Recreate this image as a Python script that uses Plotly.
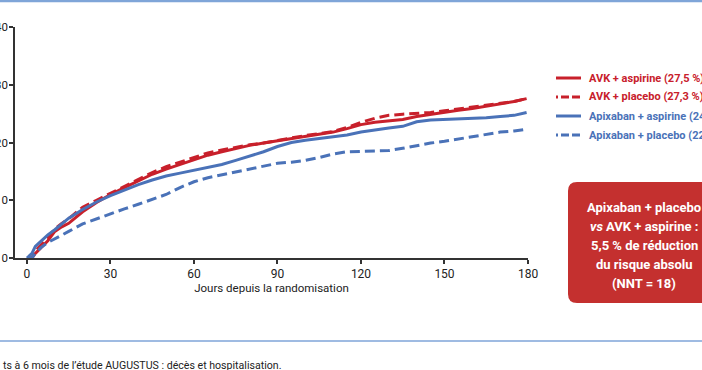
import plotly.graph_objects as go

# ---- data ----
days = [0, 1.8, 3, 5, 7.5, 10, 12.5, 15, 20, 25, 30, 35, 40, 45, 50, 55, 60, 65, 70, 75,
        80, 85, 90, 95, 100, 105, 110, 115, 120, 125, 130, 135, 140, 145, 150, 155, 160,
        165, 170, 175, 179.5]
avk_aspirine = [0, 0, 0.8, 1.7, 3.0, 4.6, 5.4, 6.0, 8.0, 9.6, 11.0, 12.2, 13.3, 14.5, 15.4,
                16.2, 17.0, 17.8, 18.4, 19.0, 19.5, 19.9, 20.3, 20.7, 21.1, 21.4, 21.8, 22.4,
                23.1, 23.5, 23.8, 24.0, 24.5, 24.9, 25.3, 25.6, 25.9, 26.3, 26.7, 27.1, 27.6]
avk_placebo = [0, 0, 1.2, 2.2, 3.5, 5.0, 6.0, 6.8, 8.8, 10.0, 11.2, 12.5, 13.6, 14.8, 15.8,
               16.6, 17.5, 18.2, 18.7, 19.2, 19.6, 19.9, 20.4, 20.8, 21.2, 21.5, 21.9, 22.6,
               23.5, 24.2, 24.7, 24.9, 25.0, 25.2, 25.5, 25.8, 26.1, 26.4, 26.8, 27.1, 27.6]
apix_aspirine = [0, 0.8, 2.0, 2.9, 4.0, 4.9, 5.9, 6.9, 8.4, 9.7, 10.8, 11.8, 12.7, 13.5, 14.2,
                 14.7, 15.2, 15.6, 16.2, 16.9, 17.6, 18.4, 19.3, 20.0, 20.4, 20.7, 21.0, 21.3,
                 21.8, 22.2, 22.5, 22.8, 23.6, 23.9, 24.0, 24.0, 24.1, 24.3, 24.5, 24.7, 25.2]
apix_placebo = [0, 0, 0.8, 1.8, 2.7, 3.3, 4.0, 4.6, 5.9, 6.8, 7.6, 8.5, 9.3, 10.1, 11.0, 12.2,
                13.2, 13.9, 14.4, 14.9, 15.3, 15.9, 16.4, 16.6, 16.9, 17.4, 18.0, 18.4, 18.5,
                18.5, 18.6, 19.0, 19.5, 19.9, 20.2, 20.6, 21.1, 21.5, 21.8, 22.0, 22.3]

x_ticks = [0, 30, 60, 90, 120, 150, 180]
y_ticks = [0, 10, 20, 30, 40]
x_title = "Jours depuis la randomisation"
legend_labels = ["AVK + aspirine (27,5 %)", "AVK + placebo (27,3 %)",
                 "Apixaban + aspirine (24,9 %)", "Apixaban + placebo (22,0 %)"]
box_lines = ["Apixaban + placebo", "<i>vs</i> AVK + aspirine :", "5,5 % de réduction",
             "du risque absolu", "(NNT = 18)"]
footer = "ts à 6 mois de l’étude AUGUSTUS : décès et hospitalisation."

RED = "#c8202b"
BLUE = "#4a72b8"
BOX = "#c4302f"
LINEBLUE = "#7fa5d8"
FONT = "Roboto, 'DejaVu Sans', sans-serif"
DASH = "10px,5px"
LEG_DASH = "2px,3px,8px,3px,8px,3px"

series = [
    (legend_labels[0], avk_aspirine, RED, "solid"),
    (legend_labels[1], avk_placebo, RED, DASH),
    (legend_labels[2], apix_aspirine, BLUE, "solid"),
    (legend_labels[3], apix_placebo, BLUE, DASH),
]

W, H = 702, 370
L, R, T, B = 15, 174, 27, 112
PW, PH = W - L - R, H - T - B


def px_x(px):
    return (px - L) / PW


def px_y(py):
    return (H - B - py) / PH


fig = go.Figure()
for name, vals, col, dash in series:
    fig.add_trace(go.Scatter(x=days, y=vals, mode="lines", name=name,
                             line=dict(color=col, width=3, dash=dash),
                             showlegend=False))

shapes = []
annotations = []

# legend (drawn manually)
rows_y = [78, 97, 116, 135]
for (name, vals, col, dash), ry in zip(series, rows_y):
    shapes.append(dict(type="line", xref="paper", yref="paper",
                       x0=px_x(556), x1=px_x(581), y0=px_y(ry), y1=px_y(ry),
                       line=dict(color=col, width=3,
                                 dash="solid" if dash == "solid" else LEG_DASH)))
    annotations.append(dict(text=name, xref="paper", yref="paper", x=px_x(587), y=px_y(ry),
                            xanchor="left", yanchor="middle", showarrow=False,
                            font=dict(family=FONT, size=11, color=col, weight="bold")))

# rounded red box
x0, x1, y0, y1, r = px_x(568), px_x(722), px_y(182), px_y(303), 9
rx, ry_ = r / PW, r / PH
path = (f"M {x0 + rx},{y0} L {x1 - rx},{y0} Q {x1},{y0} {x1},{y0 - ry_} "
        f"L {x1},{y1 + ry_} Q {x1},{y1} {x1 - rx},{y1} L {x0 + rx},{y1} "
        f"Q {x0},{y1} {x0},{y1 + ry_} L {x0},{y0 - ry_} Q {x0},{y0} {x0 + rx},{y0} Z")
shapes.append(dict(type="path", xref="paper", yref="paper", path=path,
                   fillcolor=BOX, line=dict(width=0)))
for i, t in enumerate(box_lines):
    annotations.append(dict(text=t, xref="paper", yref="paper", x=px_x(644),
                            y=px_y(207 + 19 * i), xanchor="center", yanchor="middle",
                            showarrow=False,
                            font=dict(family=FONT, size=13, color="white", weight="bold")))

# top border line and separator
shapes.append(dict(type="line", xref="paper", yref="paper", x0=px_x(-5), x1=px_x(710),
                   y0=px_y(1), y1=px_y(1), line=dict(color=LINEBLUE, width=2.5)))
shapes.append(dict(type="line", xref="paper", yref="paper", x0=px_x(-5), x1=px_x(710),
                   y0=px_y(341), y1=px_y(341), line=dict(color=LINEBLUE, width=1.5)))

annotations.append(dict(text=footer, xref="paper", yref="paper", x=px_x(1), y=px_y(365),
                        xanchor="left", yanchor="middle", showarrow=False,
                        font=dict(family=FONT, size=10.6, color="#222222")))

fig.update_layout(
    width=W, height=H,
    margin=dict(l=L, r=R, t=T, b=B, pad=0),
    paper_bgcolor="white", plot_bgcolor="white",
    shapes=shapes, annotations=annotations,
    font=dict(family=FONT, color="#222222"),
    xaxis=dict(range=[-4.3, 180], tickvals=x_ticks, ticktext=[str(v) for v in x_ticks],
               showline=True, linecolor="#333333", linewidth=1.5, ticks="outside",
               ticklen=4, tickcolor="#333333", tickwidth=1.5, showgrid=False,
               zeroline=False, tickfont=dict(size=12, color="#222222"),
               title=dict(text=x_title, font=dict(size=11.5, color="#222222"), standoff=3),
               automargin=False),
    yaxis=dict(range=[0, 40], tickvals=y_ticks, ticktext=[str(v) for v in y_ticks],
               showline=True, linecolor="#333333", linewidth=1.5, ticks="outside",
               ticklen=4, tickcolor="#333333", tickwidth=1.5, showgrid=False,
               zeroline=False, tickfont=dict(size=11.5, color="#222222"),
               ticklabelstandoff=-1, automargin=False),
)

fig.write_html("out.html", config={"displayModeBar": False},
               post_script="document.body.style.margin='0';document.body.style.padding='0';")
